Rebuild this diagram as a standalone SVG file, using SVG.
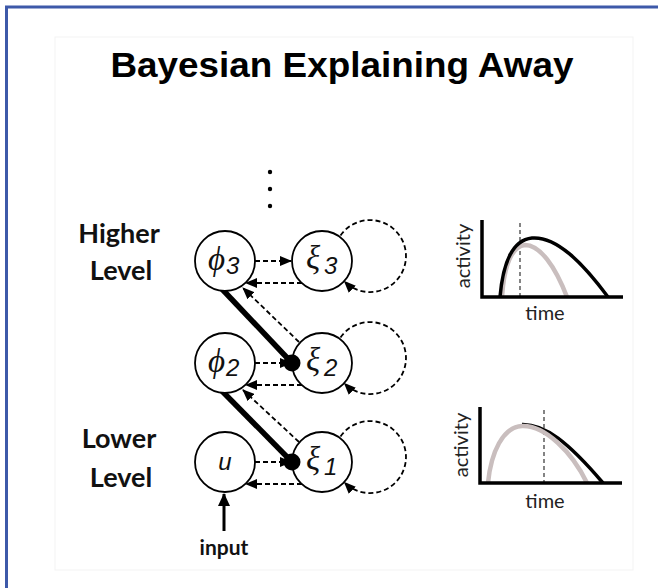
<svg xmlns="http://www.w3.org/2000/svg" width="658" height="588" viewBox="0 0 658 588">
<style>
.node{fill:#fff;stroke:#000;stroke-width:1.8}
.dash{fill:none;stroke:#000;stroke-width:1.8;stroke-dasharray:5 3}
.thick{stroke:#000;stroke-width:5.5;stroke-linecap:butt}
.lbl{font-family:"Lato","Liberation Sans",sans-serif;font-weight:bold;font-size:27px;fill:#111}
.gk{font-family:"Liberation Serif","DejaVu Serif",serif;font-style:italic;font-size:33px;fill:#111}
.sub{font-family:"Liberation Sans","DejaVu Sans",sans-serif;font-style:italic;font-size:24px;fill:#111}
.ax{fill:none;stroke:#000;stroke-width:3.5}
.ct{font-family:"Lato","Open Sans",sans-serif;font-size:20px;fill:#222}
</style>
<defs>
<marker id="ah" markerUnits="userSpaceOnUse" markerWidth="12" markerHeight="10" refX="11" refY="5" orient="auto">
<path d="M0,0 L12,5 L0,10 Z" fill="#000"/>
</marker>
<marker id="ahs" markerUnits="userSpaceOnUse" markerWidth="14" markerHeight="14" refX="12" refY="7" orient="auto">
<path d="M0,1 L13,7 L0,13 Z" fill="#000"/>
</marker>
</defs>
<rect x="0" y="0" width="658" height="588" fill="#fff"/>
<rect x="55" y="37" width="578" height="533" fill="none" stroke="#f3f3f3" stroke-width="1"/>
<path d="M6.5,588 V7 H658" fill="none" stroke="#3d59a9" stroke-width="3"/>

<text x="342" y="77" text-anchor="middle" font-family="Liberation Sans, Arial, sans-serif" font-weight="bold" font-size="35" textLength="463" lengthAdjust="spacingAndGlyphs" fill="#000">Bayesian Explaining Away</text>

<g id="dots" fill="#000">
<circle cx="270" cy="172" r="2.2"/><circle cx="270" cy="189" r="2.2"/><circle cx="270" cy="206" r="2.2"/>
</g>

<text class="lbl" x="119" y="243" text-anchor="middle">Higher</text>
<text class="lbl" x="121" y="280" text-anchor="middle">Level</text>
<text class="lbl" x="119" y="448" text-anchor="middle">Lower</text>
<text class="lbl" x="121" y="487" text-anchor="middle">Level</text>

<g id="connectors">
<path class="dash" d="M340.5,235.4 A36,36 0 1 1 344.5,281.5" marker-end="url(#ah)"/>
<path class="dash" d="M340.5,337.4 A36,36 0 1 1 344.5,383.5" marker-end="url(#ah)"/>
<path class="dash" d="M340.5,436.4 A36,36 0 1 1 344.5,482.5" marker-end="url(#ah)"/>
<line class="dash" x1="255" y1="261" x2="291" y2="261" marker-end="url(#ah)"/>
<line class="dash" x1="255" y1="363" x2="291" y2="363" marker-end="url(#ah)"/>
<line class="dash" x1="255" y1="462" x2="291" y2="462" marker-end="url(#ah)"/>
<line class="dash" x1="302" y1="283" x2="246" y2="283" marker-end="url(#ah)"/>
<line class="dash" x1="302" y1="385" x2="246" y2="385" marker-end="url(#ah)"/>
<line class="dash" x1="302" y1="484" x2="246" y2="484" marker-end="url(#ah)"/>
<line class="dash" x1="299" y1="342" x2="243" y2="288" marker-end="url(#ah)"/>
<line class="dash" x1="299" y1="442" x2="243" y2="390" marker-end="url(#ah)"/>
<line class="thick" x1="222" y1="289" x2="292" y2="363"/>
<line class="thick" x1="222" y1="391" x2="292" y2="462"/>
<line x1="224" y1="531" x2="224" y2="494" stroke="#000" stroke-width="3" marker-end="url(#ahs)"/>
</g>

<g id="phi3"><circle class="node" cx="225" cy="261" r="30"/><text class="gk" x="208" y="270">ϕ</text><text class="sub" x="226" y="274">3</text></g>
<g id="xi3"><circle class="node" cx="322" cy="261" r="30"/><text class="gk" x="306" y="269">ξ</text><text class="sub" x="324" y="274">3</text></g>
<g id="phi2"><circle class="node" cx="225" cy="363" r="30"/><text class="gk" x="208" y="372">ϕ</text><text class="sub" x="226" y="376">2</text></g>
<g id="xi2"><circle class="node" cx="322" cy="363" r="30"/><text class="gk" x="306" y="371">ξ</text><text class="sub" x="324" y="376">2</text></g>
<g id="u"><circle class="node" cx="225" cy="462" r="30"/><text class="sub" x="225" y="470" text-anchor="middle" font-size="29">u</text></g>
<g id="xi1"><circle class="node" cx="322" cy="462" r="30"/><text class="gk" x="306" y="470">ξ</text><text class="sub" x="324" y="475">1</text></g>

<g id="balls" fill="#000">
<circle cx="292" cy="363" r="8.5"/>
<circle cx="292" cy="462" r="8.5"/>
</g>

<text x="224" y="555" text-anchor="middle" font-family="Lato, Liberation Sans, sans-serif" font-weight="bold" font-size="21" fill="#111">input</text>

<g id="chart-top">
<line x1="520" y1="223" x2="520" y2="297" stroke="#333" stroke-width="1.2" stroke-dasharray="4 3"/>
<path d="M502,297 C504,265 512,246 525,245 C540,245 555,266 567,297" fill="none" stroke="#c9bebe" stroke-width="4.5"/>
<path d="M500,297 C503,262 512,240 532,238 C556,236 582,262 608,297" fill="none" stroke="#000" stroke-width="3.5"/>
<path class="ax" d="M482,220 V297 H623"/>
<text class="ct" x="545" y="320" text-anchor="middle">time</text>
<text class="ct" x="0" y="0" text-anchor="middle" transform="translate(470,256) rotate(-90)">activity</text>
</g>

<g id="chart-bottom">
<line x1="544" y1="410" x2="544" y2="483" stroke="#333" stroke-width="1.2" stroke-dasharray="4 3"/>
<path d="M522,424.5 C545,424 568,442 603,483" fill="none" stroke="#000" stroke-width="3.5"/>
<path d="M488,483 C491,452 503,427 522,426 C545,425 572,452 587,483" fill="none" stroke="#c9bebe" stroke-width="4.5"/>
<path class="ax" d="M480,407 V483 H622"/>
<text class="ct" x="545" y="508" text-anchor="middle">time</text>
<text class="ct" x="0" y="0" text-anchor="middle" transform="translate(468,445) rotate(-90)">activity</text>
</g>
</svg>
